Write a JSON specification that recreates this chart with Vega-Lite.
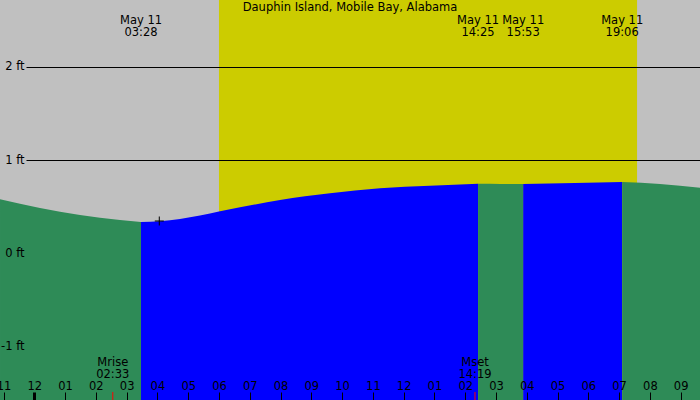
{
  "$schema": "https://vega.github.io/schema/vega-lite/v6.json",
  "width": 700,
  "height": 400,
  "padding": 0,
  "autosize": {"type": "none"},
  "background": "#C0C0C0",
  "config": {
    "view": {"stroke": null, "fill": "#C0C0C0"},
    "axis": {"labelFont": "DejaVu Sans", "labelFontSize": 11.5, "labelColor": "#000000"},
    "text": {"font": "DejaVu Sans", "fontSize": 11.5, "color": "#000000"}
  },
  "datasets": {
    "heading": [{"label": "Dauphin Island, Mobile Bay, Alabama"}],
    "daylight": [{"sunrise": 6.0, "sunset": 19.583}],
    "tide": [
      {"t": -1.114, "h": 0.577, "seg": "f1", "dir": "falling"},
      {"t": 0.185, "h": 0.484, "seg": "f1", "dir": "falling"},
      {"t": 1.485, "h": 0.409, "seg": "f1", "dir": "falling"},
      {"t": 2.784, "h": 0.355, "seg": "f1", "dir": "falling"},
      {"t": 3.467, "h": 0.333, "seg": "f1", "dir": "falling"},
      {"t": 3.467, "h": 0.333, "seg": "r1", "dir": "rising"},
      {"t": 4.084, "h": 0.341, "seg": "r1", "dir": "rising"},
      {"t": 5.383, "h": 0.403, "seg": "r1", "dir": "rising"},
      {"t": 6.033, "h": 0.448, "seg": "r1", "dir": "rising"},
      {"t": 6.683, "h": 0.491, "seg": "r1", "dir": "rising"},
      {"t": 7.982, "h": 0.570, "seg": "r1", "dir": "rising"},
      {"t": 9.607, "h": 0.642, "seg": "r1", "dir": "rising"},
      {"t": 11.231, "h": 0.696, "seg": "r1", "dir": "rising"},
      {"t": 12.856, "h": 0.724, "seg": "r1", "dir": "rising"},
      {"t": 14.417, "h": 0.745, "seg": "r1", "dir": "rising"},
      {"t": 14.417, "h": 0.745, "seg": "f2", "dir": "falling"},
      {"t": 15.15, "h": 0.743, "seg": "f2", "dir": "falling"},
      {"t": 15.883, "h": 0.742, "seg": "f2", "dir": "falling"},
      {"t": 15.883, "h": 0.742, "seg": "r2", "dir": "rising"},
      {"t": 17.566, "h": 0.753, "seg": "r2", "dir": "rising"},
      {"t": 19.1, "h": 0.763, "seg": "r2", "dir": "rising"},
      {"t": 19.1, "h": 0.763, "seg": "f3", "dir": "falling"},
      {"t": 20.328, "h": 0.742, "seg": "f3", "dir": "falling"},
      {"t": 21.628, "h": 0.701, "seg": "f3", "dir": "falling"}
    ],
    "events": [
      {"t": 3.467, "label": "May 11\n03:28"},
      {"t": 14.417, "label": "May 11\n14:25"},
      {"t": 15.883, "label": "May 11\n15:53"},
      {"t": 19.1, "label": "May 11\n19:06"}
    ],
    "moon": [
      {"t": 2.55, "label": "Mrise\n02:33"},
      {"t": 14.317, "label": "Mset\n14:19"}
    ],
    "marker": [{"t": 4.061, "h": 0.344}]
  },
  "layer": [
    {
      "data": {"name": "daylight"},
      "mark": {"type": "rect", "color": "#CCCC00"},
      "encoding": {
        "x": {"field": "sunrise", "type": "quantitative", "scale": {"domain": [-1.1144, 21.628], "nice": false, "zero": false}},
        "x2": {"field": "sunset"}
      }
    },
    {
      "data": {"name": "tide"},
      "mark": {"type": "area", "interpolate": "monotone", "opacity": 1},
      "encoding": {
        "x": {
          "field": "t", "type": "quantitative",
          "scale": {"domain": [-1.1144, 21.628], "nice": false, "zero": false},
          "axis": {
            "orient": "bottom", "offset": -8, "title": null, "domain": false, "grid": false,
            "values": [-1,0,1,2,3,4,5,6,7,8,9,10,11,12,13,14,15,16,17,18,19,20,21],
            "tickCount": 40,
            "tickSize": 8, "tickColor": "#000000",
            "tickWidth": {"condition": {"test": "datum.value == 0", "value": 3}, "value": 1},
            "labelPadding": -13.6, "labelBaseline": "middle", "labelFlush": false, "labelOverlap": false,
            "labelExpr": "(datum.value + 24) % 12 == 0 ? '12' : pad(toString((datum.value + 24) % 12), 2, '0', 'left')",
            "zindex": 1
          }
        },
        "y": {
          "field": "h", "type": "quantitative", "stack": null,
          "scale": {"domain": [-1.5806, 2.7204], "nice": false, "zero": false},
          "axis": {
            "orient": "left", "offset": -700, "title": null, "domain": false, "grid": false,
            "values": [-1, 0, 1, 2],
            "tickCount": 10,
            "tickSize": 674, "tickColor": "#000000", "tickWidth": 1,
            "tickOpacity": {"condition": {"test": "datum.value < 1", "value": 0}, "value": 1},
            "labelPadding": 2, "labelExpr": "toString(datum.value) + ' ft'",
            "zindex": 1
          }
        },
        "y2": {"datum": -1.5806},
        "color": {"field": "dir", "type": "nominal", "scale": {"domain": ["falling", "rising"], "range": ["#2E8B57", "#0000FF"]}, "legend": null},
        "detail": {"field": "seg"}
      }
    },
    {
      "data": {"name": "moon"},
      "mark": {"type": "rule", "color": "#FF0000", "strokeWidth": 1},
      "encoding": {
        "x": {"field": "t", "type": "quantitative", "scale": {"domain": [-1.1144, 21.628], "nice": false, "zero": false}},
        "y": {"datum": -1.4946, "type": "quantitative", "scale": {"domain": [-1.5806, 2.7204], "nice": false, "zero": false}},
        "y2": {"datum": -1.5806}
      }
    },
    {
      "data": {"name": "moon"},
      "mark": {"type": "text", "align": "center", "baseline": "middle", "lineBreak": "\n", "lineHeight": 12, "font": "DejaVu Sans", "fontSize": 11.5, "color": "#000000"},
      "encoding": {
        "x": {"field": "t", "type": "quantitative", "scale": {"domain": [-1.1144, 21.628], "nice": false, "zero": false}},
        "y": {"datum": -1.1839, "type": "quantitative", "scale": {"domain": [-1.5806, 2.7204], "nice": false, "zero": false}},
        "text": {"field": "label"}
      }
    },
    {
      "data": {"name": "events"},
      "mark": {"type": "text", "align": "center", "baseline": "middle", "lineBreak": "\n", "lineHeight": 12, "font": "DejaVu Sans", "fontSize": 11.5, "color": "#000000"},
      "encoding": {
        "x": {"field": "t", "type": "quantitative", "scale": {"domain": [-1.1144, 21.628], "nice": false, "zero": false}},
        "y": {"datum": 2.4968, "type": "quantitative", "scale": {"domain": [-1.5806, 2.7204], "nice": false, "zero": false}},
        "text": {"field": "label"}
      }
    },
    {
      "data": {"name": "heading"},
      "mark": {"type": "text", "align": "center", "baseline": "middle", "font": "DejaVu Sans", "fontSize": 11.5, "color": "#000000"},
      "encoding": {
        "x": {"datum": 10.257, "type": "quantitative", "scale": {"domain": [-1.1144, 21.628], "nice": false, "zero": false}},
        "y": {"datum": 2.636, "type": "quantitative", "scale": {"domain": [-1.5806, 2.7204], "nice": false, "zero": false}},
        "text": {"field": "label"}
      }
    },
    {
      "data": {"name": "marker"},
      "mark": {"type": "point", "shape": "M-1,0L1,0M0,-1L0,1", "size": 81, "filled": false, "stroke": "#000000", "strokeWidth": 1, "opacity": 1},
      "encoding": {
        "x": {"field": "t", "type": "quantitative", "scale": {"domain": [-1.1144, 21.628], "nice": false, "zero": false}},
        "y": {"field": "h", "type": "quantitative", "scale": {"domain": [-1.5806, 2.7204], "nice": false, "zero": false}}
      }
    }
  ]
}
